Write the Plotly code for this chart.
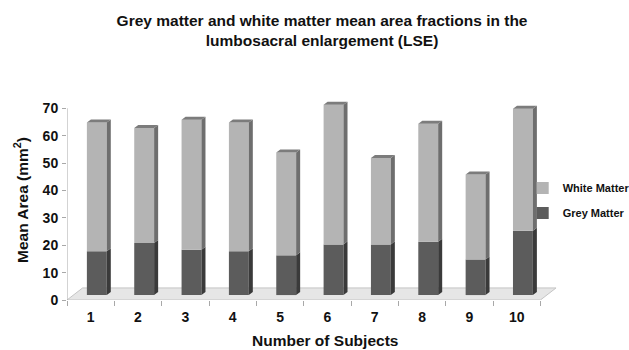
import plotly.graph_objects as go
import numpy as np

subjects = [1, 2, 3, 4, 5, 6, 7, 8, 9, 10]
grey_matter = [16, 19, 16.5, 16, 14.5, 18.5, 18.5, 19.5, 13, 23.5]
total_area = [63, 61, 64, 63, 52, 69.5, 50, 62.5, 44, 68]
white_matter = [t - g for t, g in zip(total_area, grey_matter)]
y_ticks = [0, 10, 20, 30, 40, 50, 60, 70]

FONT = "Arial, Liberation Sans, sans-serif"
# 3D geometry (in axis units)
BW = 0.42      # front face width
XO = 0.13      # depth offset of bars (x)
YO = 1.8       # depth offset of bars (y)
DX = 0.085     # side-face depth (x)
DY = 1.1       # side-face depth (y)
FLX, FLY = 0.33, 4.4  # floor depth

C_WHITE, C_WHITE_SIDE, C_WHITE_TOP = "#b4b4b4", "#6e6e6e", "#7c7c7c"
C_GREY, C_GREY_SIDE = "#5c5c5c", "#3a3a3a"

fig = go.Figure()

xs = np.array(subjects, dtype=float) + XO
g = np.array(grey_matter, dtype=float)
w = np.array(white_matter, dtype=float)
t = g + w

fig.add_trace(go.Bar(x=xs, y=g, base=[YO] * len(g), width=BW, name="Grey Matter",
                     legendgroup="g", legendrank=2,
                     marker=dict(color=C_GREY, line=dict(width=0)), hoverinfo="skip"))
fig.add_trace(go.Bar(x=xs, y=w, base=YO + g, width=BW, name="White Matter",
                     legendgroup="w", legendrank=1,
                     marker=dict(color=C_WHITE, line=dict(width=0)), hoverinfo="skip"))


def side_poly(b0, b1):
    px, py = [], []
    for xc, lo, hi in zip(xs, b0, b1):
        xr = xc + BW / 2
        px += [xr, xr + DX, xr + DX, xr, xr, None]
        py += [lo, lo + DY, hi + DY, hi, lo, None]
    return px, py


px, py = side_poly(YO + 0 * g, YO + g)
fig.add_trace(go.Scatter(x=px, y=py, mode="lines", fill="toself", fillcolor=C_GREY_SIDE,
                         line=dict(width=0), showlegend=False, hoverinfo="skip"))
px, py = side_poly(YO + g, YO + t)
fig.add_trace(go.Scatter(x=px, y=py, mode="lines", fill="toself", fillcolor=C_WHITE_SIDE,
                         line=dict(width=0), showlegend=False, hoverinfo="skip"))
tx, ty = [], []
for xc, top in zip(xs, YO + t):
    xl, xr = xc - BW / 2, xc + BW / 2
    tx += [xl, xr, xr + DX, xl + DX, xl, None]
    ty += [top, top, top + DY, top + DY, top, None]
fig.add_trace(go.Scatter(x=tx, y=ty, mode="lines", fill="toself", fillcolor=C_WHITE_TOP,
                         line=dict(width=0), showlegend=False, hoverinfo="skip"))

x0, x1 = subjects[0] - 0.5, subjects[-1] + 0.5
shapes = [
    dict(type="path", xref="x", yref="y", layer="below",
         path=f"M{x0},0 L{x1},0 L{x1 + FLX},{FLY} L{x0 + FLX},{FLY} Z",
         fillcolor="#e6e6e6", line=dict(color="#c4c4c4", width=1)),
    dict(type="line", xref="x", yref="y", x0=x0, x1=x0, y0=0, y1=y_ticks[-1],
         line=dict(color="#a8a8a8", width=1)),
]

fig.update_layout(
    width=629, height=350,
    margin=dict(l=67, r=71.7, t=99.8, b=50, autoexpand=False),
    paper_bgcolor="white", plot_bgcolor="white",
    barmode="overlay",
    shapes=shapes,
    title=dict(text="Grey matter and white matter mean area fractions in the<br>lumbosacral enlargement (LSE)",
               x=0.512, xanchor="center", y=0.926, yanchor="top",
               font=dict(family=FONT, size=15.5, color="#111111", weight="bold")),
    font=dict(family=FONT, color="#111111"),
    xaxis=dict(range=[x0, x1 + 0.35], tickmode="array", tickvals=subjects,
               ticktext=[str(s) for s in subjects], ticks="", showgrid=False,
               zeroline=False, showline=False, ticklabelstandoff=7, automargin=False,
               tickfont=dict(size=14, weight="bold"),
               minor=dict(ticks="outside", ticklen=5, tickcolor="#a8a8a8",
                          tick0=0.5, dtick=1, showgrid=False)),
    yaxis=dict(range=[0, 73], tickmode="array", tickvals=y_ticks,
               ticks="outside", ticklen=4, tickcolor="#a8a8a8", automargin=False,
               showgrid=False, zeroline=False, showline=False,
               tickfont=dict(size=14, weight="bold"), ticklabelstandoff=1,
               title=dict(text="Mean Area (mm<sup>2</sup>)", standoff=10,
                          font=dict(size=15.5, weight="bold"))),
    annotations=[dict(text="Number of Subjects", xref="paper", yref="paper",
                      x=0.526, y=-0.2, xanchor="center", yanchor="middle",
                      showarrow=False, font=dict(size=15.5, weight="bold"))],
    legend=dict(x=0.93, xanchor="left", y=0.497, yanchor="middle",
                itemwidth=30, tracegroupgap=6,
                font=dict(size=11, weight="bold"), bgcolor="rgba(0,0,0,0)",
                itemclick=False),
)

fig.write_html("out.html", config={"displayModeBar": False},
               post_script="document.body.style.margin='0';")
